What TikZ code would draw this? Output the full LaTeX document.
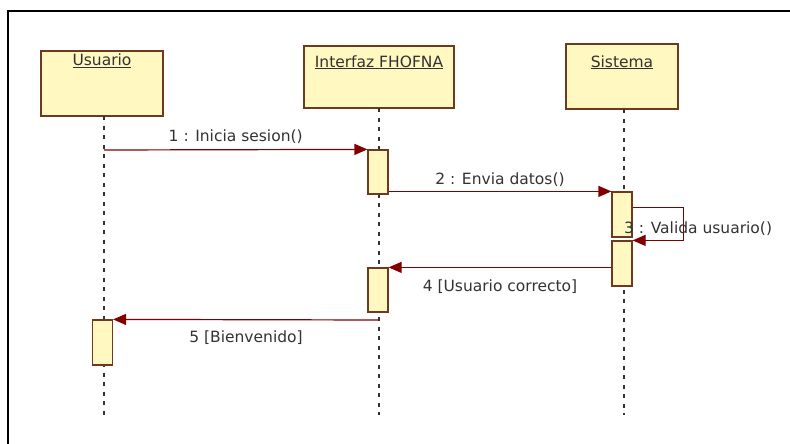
\documentclass[tikz,border=0pt]{standalone}
\usepackage{fontspec}
\setmainfont{DejaVu Sans}
\usetikzlibrary{arrows.meta,calc}
\definecolor{boxfill}{RGB}{255,248,192}
\definecolor{boxline}{RGB}{110,58,30}
\definecolor{msgred}{RGB}{128,0,0}
\definecolor{txt}{RGB}{50,50,50}
\tikzset{
  actorbox/.style={draw=boxline, fill=boxfill, line width=1.2pt, inner sep=0pt, minimum width=#1},
  actbar/.style={draw=boxline, fill=boxfill, line width=1.2pt, inner sep=0pt, minimum width=20pt, minimum height=#1},
  lifeline/.style={draw=txt, line width=1.5pt, dash pattern=on 4pt off 5.5pt},
  msg/.style={draw=msgred, line width=1.2pt, -{Triangle[length=13pt,width=11pt]}},
  lbl/.style={font=\fontsize{15.5}{18}\selectfont, text=txt, inner sep=0pt, anchor=base},
  title/.style={font=\fontsize{15.5}{18}\selectfont, text=txt, inner sep=0pt, anchor=base}
}
\begin{document}
\begin{tikzpicture}[x=1pt,y=-1pt]
\useasboundingbox (0,0) rectangle (790,444);
% frame
\draw[line width=2.2pt] (8,444) -- (8,11) -- (790,11);
% actor boxes
\node[actorbox=122pt, minimum height=65pt] (usr) at (102,83.5) {};
\node[actorbox=150pt, minimum height=62pt] (ifz) at (379,77) {};
\node[actorbox=112pt, minimum height=65pt] (sis) at (622,76.5) {};
\node[title] (usrT) at (102,66) {\underline{Usuario}};
\node[title] (ifzT) at (379,67) {\underline{Interfaz FHOFNA}};
\node[title] (sisT) at (622,67) {\underline{Sistema}};
% lifeline ends
\coordinate (usrE) at (104,415);
\coordinate (ifzE) at (379,415);
\coordinate (sisE) at (624,415);
\coordinate (usrS) at (104,116);
\coordinate (ifzS) at (379,108);
\coordinate (sisS) at (624,109);
\draw[lifeline] (usrS) -- (usrE);
\draw[lifeline] (ifzS) -- (ifzE);
\draw[lifeline] (sisS) -- (sisE);
% activation bars
\node[actbar=44pt] (i1) at (378,172) {};
\node[actbar=45pt] (s1) at (622,214.5) {};
\node[actbar=45pt] (s2) at (622,263.5) {};
\node[actbar=44pt] (i2) at (378,290) {};
\node[actbar=45pt] (u1) at (102.5,342.5) {};
% messages
\coordinate (m1s) at (104,150);
\draw[msg] (m1s) -- (i1.north west)
  node[lbl, midway, yshift=8pt] {1 : Inicia sesion()};
\draw[msg] (i1.east |- s1.north) -- (s1.north west)
  node[lbl, midway, yshift=7pt] {2 : Envia datos()};
\draw[msg] ($(s1.north east)+(0,16)$) -- ++(51,0) |- (s2.north east);
\node[lbl, anchor=base west] (m3) at (624,233) {3 : Valida usuario()};
\draw[msg] ($(s2.north west)+(0,27)$) -- (i2.north east)
  node[lbl, midway, yshift=-24pt] {4 [Usuario correcto]};
\coordinate (m5s) at (379,320);
\draw[msg] (m5s) -- (u1.north east)
  node[lbl, midway, yshift=-23pt] {5 [Bienvenido]};
\end{tikzpicture}
\end{document}
